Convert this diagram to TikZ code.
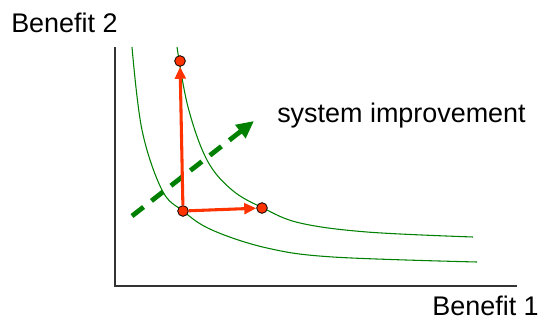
\documentclass[tikz,border=0pt]{standalone}
\usepackage{fontspec}
\setmainfont{Liberation Sans}
\usetikzlibrary{arrows.meta}
\definecolor{curvegreen}{HTML}{008000}
\definecolor{redorange}{HTML}{FF3300}
\definecolor{axisgray}{HTML}{333333}

\begin{document}
\begin{tikzpicture}[
  x=0.75pt, y=-0.75pt,
  font=\fontsize{20.2}{24}\selectfont,
  axis/.style={draw=axisgray, line width=1.1pt},
  frontier/.style={draw=curvegreen, line width=0.8pt},
  dot/.style={circle, draw=black, fill=redorange, inner sep=0pt, minimum size=8pt, line width=0.6pt},
  move/.style={draw=redorange, line width=2.3pt, -{Triangle[length=9pt,width=8pt]}},
  gain/.style={draw=curvegreen, line width=3.6pt, dash pattern=on 11pt off 7.5pt, -{Triangle[length=13pt,width=12pt]}}
]
\useasboundingbox (0,0) rectangle (542,322);

% axes
\coordinate (ytop) at (115,47);
\coordinate (xend) at (517,286);
\draw[axis] (ytop) |- (xend);

\node[anchor=base west, inner sep=0pt] (ylab) at (11,32) {Benefit 2};
\node[anchor=base east, inner sep=0pt] (xlab) at (539,315) {Benefit 1};

% indifference curves
\draw[frontier] plot[smooth, tension=0.6] coordinates {(132,47) (142,130) (162,190) (183,211) (212,230) (267,248) (333,257) (477,262)};
\draw[frontier] plot[smooth, tension=0.6] coordinates {(177,47) (188,107) (207,160) (232,190) (263,208) (300,223) (367,232) (473,237)};

% improvement direction
\coordinate (gstart) at (132,216);
\coordinate (gend) at (254,121);
\draw[gain] (gstart) -- (gend);
\node[anchor=base west, inner sep=0pt] (improve) at (277,122) {system improvement};

% design points
\node[dot] (base) at (183,211) {};
\node[dot] (up) at (180,61) {};
\node[dot] (right) at (262,208) {};
\draw[move] (base) -- (up);
\draw[move] (base) -- (right);

\end{tikzpicture}
\end{document}
